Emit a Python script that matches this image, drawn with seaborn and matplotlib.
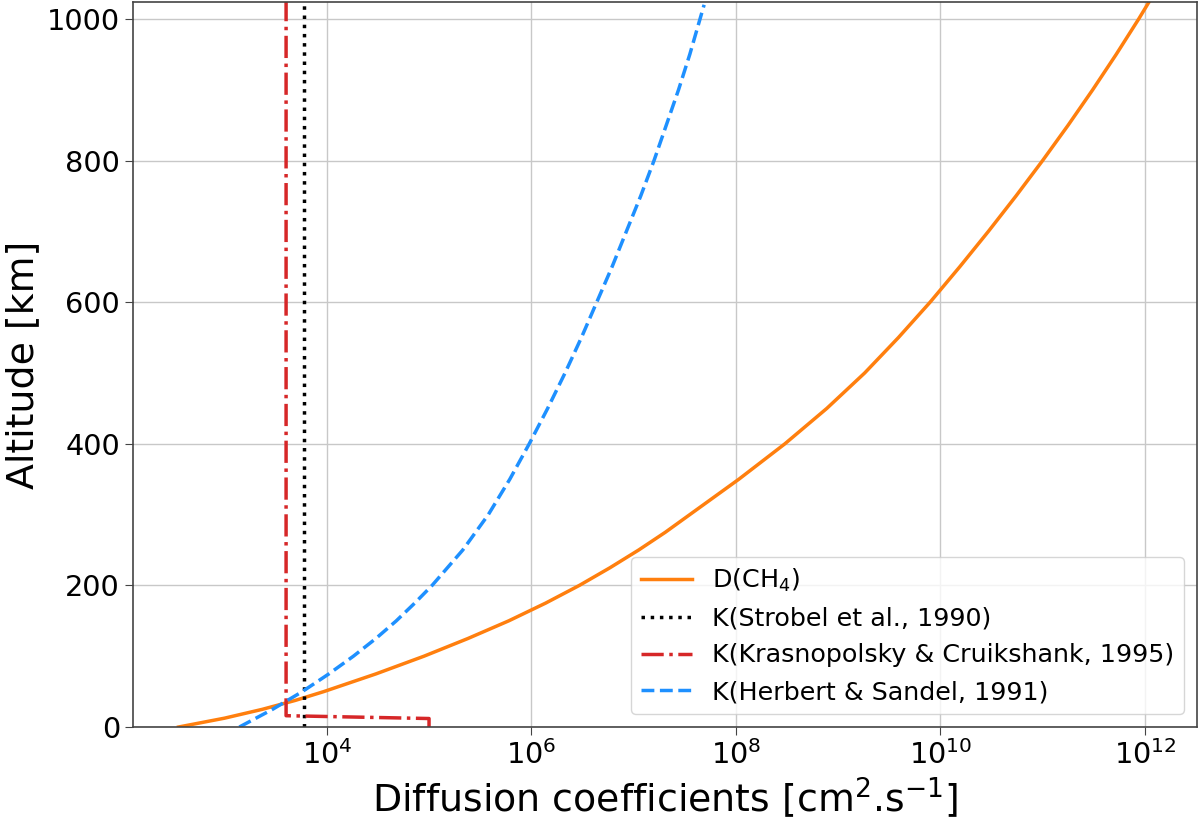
import numpy as np
import pandas as pd
import matplotlib
matplotlib.use('Agg')
import matplotlib.pyplot as plt
import seaborn as sns

# altitudes [km] and log10 of the coefficients
alt_ch4 = [0, 12.5, 25, 37.5, 50, 75, 100, 125, 150, 175, 200, 225, 250, 275, 300,
           350, 400, 450, 500, 550, 600, 650, 700, 750, 800, 850, 900, 950, 1000, 1050]
logd_ch4 = [2.55, 3.00, 3.37, 3.69, 3.97, 4.48, 4.95, 5.38, 5.78, 6.14, 6.47, 6.77,
            7.05, 7.31, 7.55, 8.03, 8.48, 8.89, 9.26, 9.59, 9.90, 10.19, 10.47, 10.74,
            11.0, 11.25, 11.49, 11.72, 11.94, 12.15]

alt_hs = [0, 25, 50, 75, 100, 125, 150, 175, 200, 250, 300, 350, 400, 450, 500,
          550, 600, 650, 700, 750, 800, 850, 900, 950, 1000, 1020]
logk_hs = [3.145, 3.47, 3.76, 4.02, 4.26, 4.48, 4.68, 4.86, 5.03, 5.33, 5.58, 5.79,
           5.98, 6.16, 6.33, 6.49, 6.64, 6.79, 6.93, 7.07, 7.20, 7.32, 7.44, 7.55,
           7.65, 7.69]

alt_strobel = [0, 1100]
k_strobel = [6.0e3, 6.0e3]

alt_kc = [1100, 16, 12, 0]
k_kc = [4.0e3, 4.0e3, 1.0e5, 1.0e5]

xticks = [1e4, 1e6, 1e8, 1e10, 1e12]
yticks = [0, 200, 400, 600, 800, 1000]

d_ch4 = pd.DataFrame({'alt': alt_ch4, 'val': np.power(10.0, logd_ch4)})
k_hs = pd.DataFrame({'alt': alt_hs, 'val': np.power(10.0, logk_hs)})
k_st = pd.DataFrame({'alt': alt_strobel, 'val': k_strobel})
k_kr = pd.DataFrame({'alt': alt_kc, 'val': k_kc})

plt.rcParams['font.family'] = ['DejaVu Sans']

fig, ax = plt.subplots(figsize=(12, 8.19), dpi=100)

lw = 2.5
common = dict(x='val', y='alt', sort=False, estimator=None, orient='y', lw=lw, ax=ax)
sns.lineplot(data=d_ch4, color='#ff7f0e', label='D(CH$_4$)', **common)
sns.lineplot(data=k_st, color='black', ls=':', label='K(Strobel et al., 1990)', **common)
sns.lineplot(data=k_kr, color='#d62728', ls='-.',
             label='K(Krasnopolsky & Cruikshank, 1995)', **common)
sns.lineplot(data=k_hs, color='#1e90ff', ls='--', label='K(Herbert & Sandel, 1991)', **common)

ax.set_xscale('log')
ax.set_xlim(10 ** 2.107, 10 ** 12.51)
ax.set_ylim(0, 1024)
ax.set_xticks(xticks)
ax.set_yticks(yticks)
ax.xaxis.set_minor_locator(matplotlib.ticker.NullLocator())
ax.grid(True, color='#c8c8c8', lw=1)
ax.tick_params(labelsize=20.7, length=6, color='#444444', labelcolor='black')
for s in ax.spines.values():
    s.set_color('#444444')
    s.set_linewidth(1.2)

ax.set_xlabel('Diffusion coefficients [cm$^2$.s$^{-1}$]', fontsize=27.3)
ax.set_ylabel('Altitude [km]', fontsize=27.3)
ax.legend(loc='lower right', fontsize=18.3, frameon=True, handlelength=2.0)

plt.subplots_adjust(left=0.111, right=0.9975, top=0.9976, bottom=0.1123)
fig.savefig('out.png', dpi=100)
